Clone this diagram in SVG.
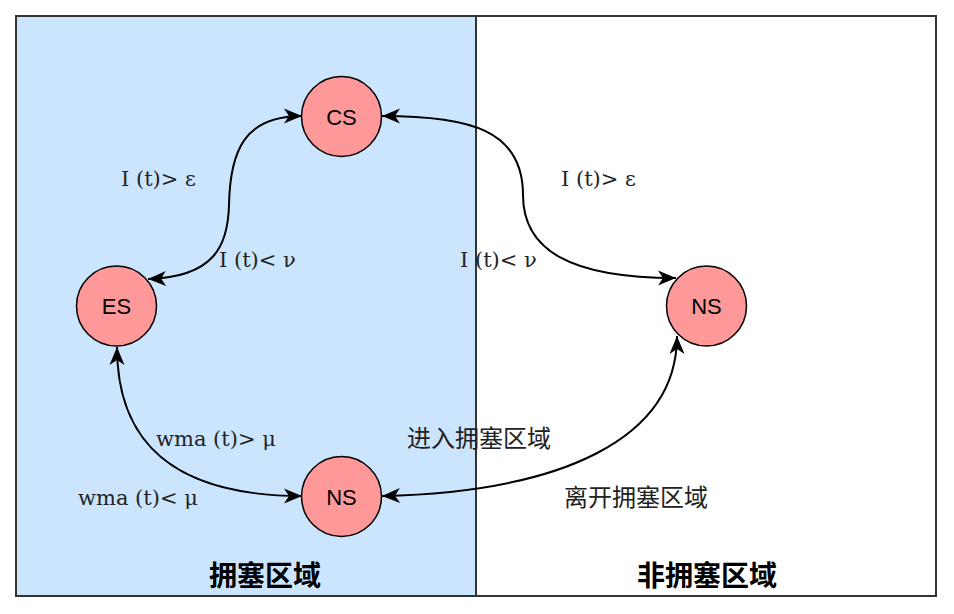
<svg xmlns="http://www.w3.org/2000/svg" width="954" height="614" viewBox="0 0 954 614">
<style>
.region{stroke:#333333;stroke-width:2}
.node{fill:#FF9999;stroke:#000000;stroke-width:1.5}
.nl{font-family:"Liberation Sans",Arial,sans-serif;font-size:22px;fill:#000;text-anchor:middle}
.el{font-family:"DejaVu Serif","Liberation Serif",serif;font-size:21px;fill:#222}
.cj{font-family:"Noto Sans CJK SC","Noto Sans",sans-serif;font-size:24px;fill:#222}
.title{font-family:"Noto Sans CJK SC","Noto Sans",sans-serif;font-size:28px;font-weight:bold;fill:#000;text-anchor:middle}
.edge{fill:none;stroke:#000;stroke-width:2;marker-start:url(#arr);marker-end:url(#arr)}
</style>
<defs>
<marker id="arr" markerUnits="userSpaceOnUse" markerWidth="19" markerHeight="18" refX="18" refY="9" orient="auto-start-reverse" overflow="visible">
<path d="M0,1.5 L18,9 L0,16.5 L5,9 z" fill="#000"/>
</marker>
</defs>
<rect width="954" height="614" fill="#ffffff"/>
<g id="congested-region">
<rect class="region" x="16" y="16" width="460" height="580" fill="#CCE5FF"/>
<text class="title" x="265" y="586">拥塞区域</text>
</g>
<g id="non-congested-region">
<rect class="region" x="476" y="16" width="460" height="580" fill="#ffffff"/>
<text class="title" x="707" y="586">非拥塞区域</text>
</g>
<g id="connectors">
<path class="edge" d="M148,279 C215,277 228,245 229,205 C230,150 245,116 302,116"/>
<path class="edge" d="M382,116 C470,116 523,130 523,195 C523,250 570,278 676,278"/>
<path class="edge" d="M117,347 C117,440 170,496 302,496"/>
<path class="edge" d="M382,496 C560,492 677,440 677,336"/>
<text class="el" x="121" y="186">I (t)&gt; ε</text>
<text class="el" x="219" y="267">I (t)&lt; ν</text>
<text class="el" x="561" y="186">I (t)&gt; ε</text>
<text class="el" x="460" y="267">I (t)&lt; ν</text>
<text class="el" x="156" y="446">wma (t)&gt; μ</text>
<text class="el" x="78" y="505">wma (t)&lt; μ</text>
<text class="cj" x="407" y="447">进入拥塞区域</text>
<text class="cj" x="564" y="506">离开拥塞区域</text>
</g>
<g id="node-CS">
<circle class="node" cx="341.5" cy="116.5" r="40"/>
<text class="nl" x="341.5" y="124.5">CS</text>
</g>
<g id="node-ES">
<circle class="node" cx="116.5" cy="306" r="40"/>
<text class="nl" x="116.5" y="314">ES</text>
</g>
<g id="node-NS-congested">
<circle class="node" cx="341.5" cy="496.5" r="40"/>
<text class="nl" x="341.5" y="504.5">NS</text>
</g>
<g id="node-NS-free">
<circle class="node" cx="706.5" cy="306" r="40"/>
<text class="nl" x="706.5" y="314">NS</text>
</g>
</svg>
